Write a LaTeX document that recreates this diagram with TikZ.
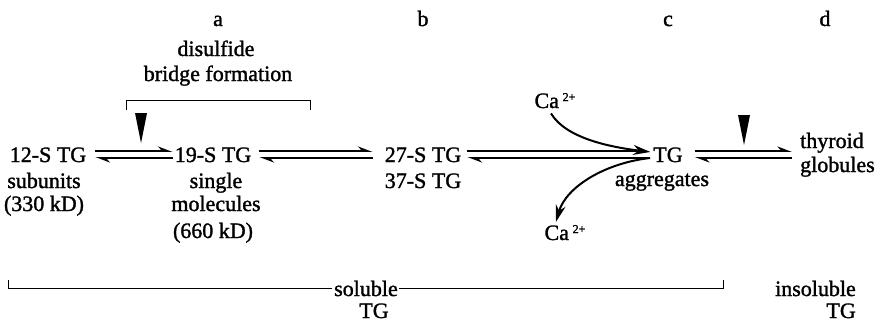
\documentclass[tikz,border=0pt]{standalone}
\usepackage{fontspec}
\setmainfont{Liberation Serif}[FakeBold=1.4]
\usetikzlibrary{arrows.meta,calc}
\newcommand{\catwo}{Ca\,\raisebox{7pt}{\fontsize{12}{12}\selectfont 2+}}
\begin{document}
\begin{tikzpicture}[x=1pt,y=-1pt,
  lbl/.style={inner sep=0pt, anchor=base, font=\fontsize{22}{24}\selectfont},
  eqarrow/.style={line width=1.9pt, -{Stealth[harpoon,length=12pt,width=9pt]}},
  curvearrow/.style={line width=2pt, -{Stealth[length=17pt,width=10pt]}},
  bracket/.style={line width=0.9pt},
  wedge/.style={fill=black}]
\useasboundingbox (0,0) rectangle (876,322);
% column letters
\node[lbl] (la) at (218,26) {a};
\node[lbl] (lb) at (423,26) {b};
\node[lbl] (lc) at (668,26) {c};
\node[lbl] (ld) at (825,26) {d};
\node[lbl] (dis) at (216,56) {disulfide};
\node[lbl] (bri) at (218,81) {bridge formation};
% species
\node[lbl] (n12) at (48,162) {12-S TG};
\node[lbl] (n12b) at (44,188) {subunits};
\node[lbl] (n12c) at (44,211) {(330 kD)};
\node[lbl] (n19) at (213,162) {19-S TG};
\node[lbl] (n19b) at (216,188) {single};
\node[lbl] (n19c) at (216,211) {molecules};
\node[lbl] (n19d) at (213,238) {(660 kD)};
\node[lbl] (n27) at (423,162) {27-S TG};
\node[lbl] (n37) at (423,188) {37-S TG};
\node[lbl] (tg) at (668,162) {TG};
\node[lbl] (agg) at (662,186) {aggregates};
\node[lbl, anchor=base west] (thy) at (800,148) {thyroid};
\node[lbl, anchor=base west] (glo) at (800,172) {globules};
\node[lbl] (ca1) at (555,108) {\catwo};
\node[lbl] (ca2) at (565,240) {\catwo};
\node[lbl] (sol) at (366,296) {soluble};
\node[lbl] (soltg) at (374,318) {TG};
\node[lbl, anchor=base east] (ins) at (856,296) {insoluble};
\node[lbl, anchor=base east] (instg) at (856,318) {TG};
% brackets
\draw[bracket] (126,110) -- (126,100) -- (310,100) -- (310,110);
\draw[bracket] (8,280) |- ([xshift=-2pt]sol.west);
\draw[bracket] ([xshift=1pt]sol.east) -| (723,280);
% wedges
\coordinate (w1) at (141,143);
\fill[wedge] ([shift={(-6,-30)}]w1) -- ([shift={(6,-30)}]w1) -- (w1) -- cycle;
\coordinate (w2) at (744,145);
\fill[wedge] ([shift={(-6,-30)}]w2) -- ([shift={(6,-30)}]w2) -- (w2) -- cycle;
% equilibria
\draw[eqarrow] ([shift={(9,-11)}]n12.base east) -- ([shift={(-2,-11)}]n19.base west);
\draw[eqarrow] ([shift={(-2,-4)}]n19.base west) -- ([shift={(9,-4)}]n12.base east);
\draw[eqarrow] ([shift={(8,-11)}]n19.base east) -- ([shift={(-12,-11)}]n27.base west);
\draw[eqarrow] ([shift={(-12,-4)}]n27.base west) -- ([shift={(8,-4)}]n19.base east);
\draw[eqarrow] ([shift={(6,-11)}]n27.base east) -- ([shift={(-3,-11)}]tg.base west);
\draw[eqarrow] ([shift={(-3,-4)}]tg.base west) -- ([shift={(6,-4)}]n27.base east);
\draw[eqarrow] ([shift={(12,-11)}]tg.base east) -- ($(tg.base -| thy.west)+(-8,-11)$);
\draw[eqarrow] ($(tg.base -| thy.west)+(-8,-4)$) -- ([shift={(12,-4)}]tg.base east);
% calcium
\draw[curvearrow] ([shift={(-4,5)}]ca1.south) .. controls +(15,25) and +(-40,-5) .. ([shift={(-3,-10)}]tg.base west);
\draw[curvearrow] ([shift={(-3,-4)}]tg.base west) .. controls +(-45,5) and +(10,-35) .. ([shift={(-9,-3)}]ca2.north);
\end{tikzpicture}
\end{document}
